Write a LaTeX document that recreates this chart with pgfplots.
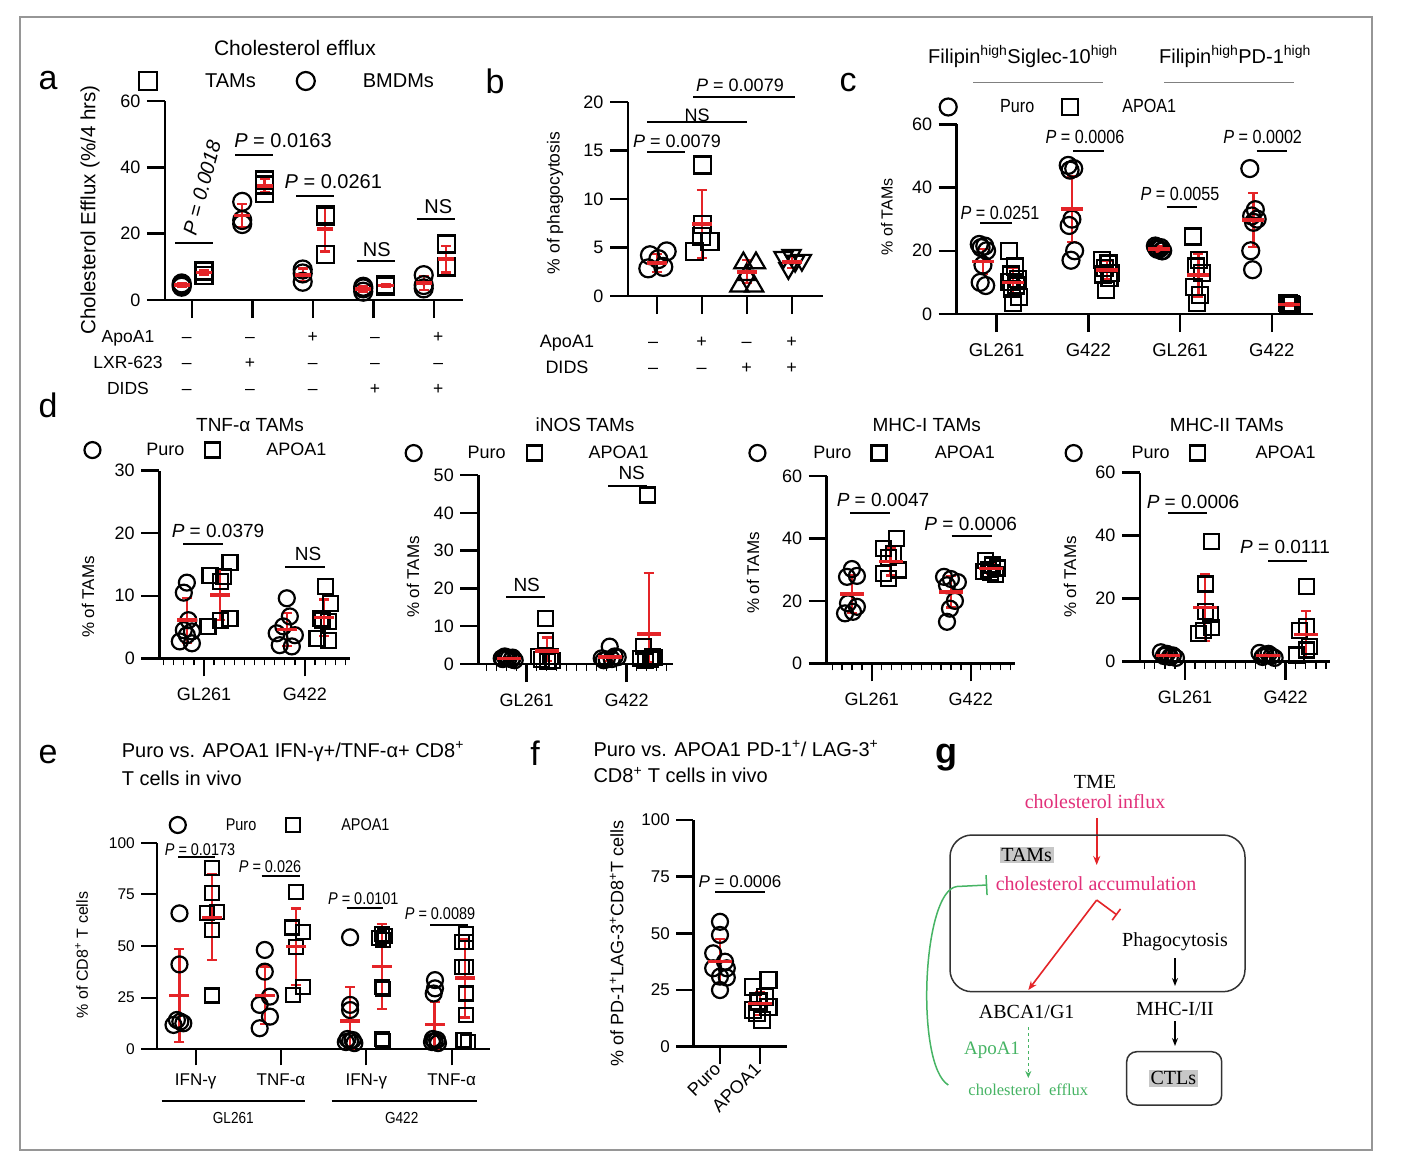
\documentclass[border=0pt]{standalone}
\usepackage{fontspec}
\setmainfont{Liberation Sans}
\newfontfamily\serifg{Liberation Serif}
\newfontfamily\cnd[FakeStretch=0.85]{Liberation Sans}
\usepackage{pgfplots}
\pgfplotsset{compat=1.18}
\usetikzlibrary{arrows.meta}
\newcommand\fs[1]{\fontsize{#1}{#1}\selectfont}
\definecolor{cred}{RGB}{228,36,40}
\definecolor{cpink}{RGB}{226,48,122}
\definecolor{cgreen}{RGB}{70,180,100}
\definecolor{cframe}{RGB}{150,150,150}
\tikzset{sig/.style={line width=2pt}}

\pgfplotsset{
  gp/.style={scale only axis, axis lines=left, axis line style={-, line width=2.5pt, black},
    tick style={line width=2.5pt, black}, tick align=outside, major tick length=18pt,
    clip=false, /pgf/number format/assume math mode=true, tick label style={font=\fs{18}},
    yticklabel style={xshift=-3pt},
    legend style={draw=none, fill=none, inner sep=0pt, nodes={inner sep=0pt}, legend columns=2, anchor=west},
    legend cell align=left},
  lg/.style 2 args={legend image code/.code={\draw[##1] plot coordinates {(0pt,0pt)}; \path[draw=none, fill=none] (-10pt,0pt) -- (#1,0pt);},
    legend style={/tikz/every even column/.append style={column sep=#2}}},
  ci/.style={only marks, mark=o, black, line width=2.2pt, mark size=#1},
  sq/.style={only marks, mark=square, black, line width=2.2pt, mark size=#1},
  mn/.style 2 args={only marks, mark=-, cred, line width=3.5pt, mark size=#1,
    error bars/y dir=both, error bars/y explicit,
    error bars/error bar style={cred, line width=2.2pt},
    error bars/error mark options={rotate=90, cred, line width=2.2pt, mark size=#2}},
}

\begin{document}
\begin{tikzpicture}
\path[fill=white, use as bounding box] (0pt,0pt) rectangle (1406pt,-1172pt);

% ---------- a ----------
\begin{axis}[gp, at={(165pt,-300pt)}, anchor=south west, width=298pt, height=199pt,
  xmin=0.554, xmax=5.479, ymin=0, ymax=60, ytick={0,20,40,60}, xtick={1,2,3,4,5}, xticklabels={,,,,},
  lg={57pt}{40pt}, legend style={at={(-0.091,1.1005)}, font=\fs{20}}]
\addlegendimage{sq=9pt}\addlegendentry{TAMs}
\addlegendimage{ci=9pt}\addlegendentry{BMDMs}
\addplot[forget plot, ci=9pt] coordinates {(0.83,4) (0.83,4.5) (0.83,5) (1.83,29.6) (1.83,24.1) (1.83,22.9)
  (2.83,9.2) (2.83,8.0) (2.83,5.5) (3.83,4) (3.83,3.5) (3.83,2.5) (4.83,7.5) (4.83,4.5) (4.83,3.5)};
\addplot[forget plot, sq=8.5pt] coordinates {(1.2,7.5) (1.2,8.5) (1.2,9) (2.2,36.2) (2.2,34.7) (2.2,32.2)
  (3.2,25.6) (3.2,25.1) (3.2,13.6) (4.2,4.5) (4.2,4.0) (4.2,4.6) (5.2,16.9) (5.2,10.1) (5.2,9.8)};
\addplot[forget plot, mn={8pt}{5pt}] coordinates {(0.83,4.5) +- (0,0.5) (1.83,25.5) +- (0,3.5)
  (2.83,7.6) +- (0,1.9) (3.83,3.3) +- (0,0.8) (4.83,5.2) +- (0,2.1)};
\addplot[forget plot, mn={8pt}{5pt}] coordinates {(1.2,8.3) +- (0,0.8) (2.2,34.4) +- (0,2.0)
  (3.2,21.4) +- (0,6.8) (4.2,4.4) +- (0,0.3) (5.2,12.3) +- (0,4.0)};
\end{axis}

% ---------- b ----------
\begin{axis}[gp, at={(628pt,-296pt)}, anchor=south west, width=195pt, height=194pt,
  xmin=0.356, xmax=4.689, ymin=0, ymax=20, ytick={0,5,10,15,20}, xtick={1,2,3,4}, xticklabels={,,,}]
\addplot[forget plot, ci=9pt] coordinates {(0.844,4.2) (1.215,4.6) (0.807,2.85) (1.14,3.0) (1.03,3.8)};
\addplot[forget plot, sq=8.5pt] coordinates {(2.015,13.5) (2.015,7.4) (2.18,5.6) (1.84,4.6) (1.99,6.1)};
\addplot[forget plot, only marks, mark=triangle, black, line width=2.2pt, mark size=10.5pt]
  coordinates {(2.92,3.4) (3.2,3.4) (2.83,1.0) (3.16,1.0) (2.99,2.2)};
\addplot[forget plot, only marks, mark=triangle, black, line width=2.2pt, mark size=10.5pt, mark options={rotate=180}]
  coordinates {(3.81,4.0) (4.07,3.6) (3.92,2.85) (4.22,3.7) (3.99,4.2)};
\addplot[forget plot, mn={10pt}{5pt}] coordinates {(1,3.4) +- (0,0.9) (2,7.4) +- (0,3.5)
  (3,2.5) +- (0,1.2) (4,3.5) +- (0,0.6)};
\end{axis}

% ---------- c ----------
\begin{axis}[gp, at={(956.7pt,-314pt)}, anchor=south west, width=356.3pt, height=189.7pt,
  xmin=0.564, xmax=4.449, ymin=0, ymax=60, ytick={0,20,40,60}, xtick={1,2,3,4},
  xticklabels={GL261,G422,GL261,G422}, xticklabel style={font=\fs{18.5}, yshift=-8pt},
  lg={52pt}{26pt}, legend style={at={(-0.0525,1.0912)}, font=\cnd\fs{19}}]
\addlegendimage{ci=8.5pt}\addlegendentry{Puro}
\addlegendimage{sq=8pt}\addlegendentry{APOA1}
\addplot[forget plot, ci=8.5pt] coordinates {
  (0.81,22) (0.87,21.5) (0.83,21) (0.89,20) (0.85,15.5) (0.82,10) (0.88,9)
  (1.78,47) (1.84,46) (1.80,45.5) (1.82,30) (1.79,28) (1.85,20) (1.81,17)
  (2.73,21.5) (2.79,21) (2.75,20.5) (2.81,20) (2.77,20.5) (2.74,21) (2.80,20)
  (3.76,46) (3.82,33) (3.78,31) (3.84,30) (3.80,29) (3.77,20) (3.79,14)};
\addplot[forget plot, sq=8pt] coordinates {
  (1.13,20) (1.20,15) (1.16,12.5) (1.23,11) (1.14,10) (1.21,9) (1.17,8) (1.24,5.5) (1.18,3.5)
  (2.15,17) (2.22,16) (2.18,14.5) (2.25,13) (2.16,12.5) (2.23,11.5) (2.19,7.5)
  (3.14,24.5) (3.21,17) (3.17,15) (3.24,13) (3.15,8.5) (3.22,6) (3.18,3.5)
  (4.17,3.5) (4.21,3) (4.19,3.2) (4.22,2.8) (4.19,3.4) (4.20,3.1) (4.18,2.9)};
\addplot[forget plot, mn={11pt}{5pt}] coordinates {(0.85,16.6) +- (0,4) (1.82,33.2) +- (0,10.3)
  (2.77,20.6) +- (0,0.8) (3.8,29.7) +- (0,8.5)};
\addplot[forget plot, mn={11pt}{5pt}] coordinates {(1.18,10) +- (0,4.5) (2.2,13.9) +- (0,3)
  (3.2,12.3) +- (0,6.8) (4.19,3) +- (0,0.3)};
\end{axis}

% ---------- d1 TNF ----------
\begin{axis}[gp, at={(159.3pt,-658.3pt)}, anchor=south west, width=190.7pt, height=187.6pt,
  xmin=0.557, xmax=2.446, ymin=0, ymax=30, ytick={0,10,20,30}, xtick={1,2}, xticklabels={GL261,G422},
  minor xtick={0.6,0.7,...,2.4}, minor tick length=7pt, minor tick style={line width=1.3pt},
  xticklabel style={yshift=-8pt},
  lg={54pt}{18pt}, legend style={at={(-0.404,1.110)}, font=\fs{18}}]
\addlegendimage{ci=8pt}\addlegendentry{Puro}
\addlegendimage{sq=7.5pt}\addlegendentry{APOA1}
\addplot[forget plot, ci=8pt] coordinates {(0.83,12.1) (0.80,10.5) (0.845,6.1) (0.80,4.5) (0.88,4.3) (0.76,2.7) (0.88,2.4) (0.83,3.7)
  (1.82,9.6) (1.85,6.7) (1.785,5.1) (1.72,4.0) (1.90,3.7) (1.75,2.1) (1.87,1.9)};
\addplot[forget plot, sq=7.5pt] coordinates {(1.257,15.3) (1.06,13.2) (1.19,13.1) (1.16,12.3) (1.257,6.4) (1.04,5.1) (1.16,6.1)
  (2.20,11.5) (2.25,8.8) (2.15,6.4) (2.23,5.9) (2.12,3.2) (2.23,2.9) (2.17,6.1)};
\addplot[forget plot, mn={10pt}{5pt}] coordinates {(0.83,6.1) +- (0,3.6) (1.16,10.1) +- (0,4)
  (1.82,4.6) +- (0,2.6) (2.19,6.5) +- (0,2.9)};
\end{axis}

% ---------- d2 iNOS ----------
\begin{axis}[gp, at={(478.3pt,-664pt)}, anchor=south west, width=194.4pt, height=189pt,
  xmin=0.516, xmax=2.46, ymin=0, ymax=50, ytick={0,10,...,50}, xtick={1,2}, xticklabels={GL261,G422},
  minor xtick={0.6,0.7,...,2.4}, minor tick length=7pt, minor tick style={line width=1.3pt},
  xticklabel style={yshift=-8pt},
  lg={54pt}{19pt}, legend style={at={(-0.385,1.116)}, font=\fs{18}}]
\addlegendimage{ci=8pt}\addlegendentry{Puro}
\addlegendimage{sq=7.5pt}\addlegendentry{APOA1}
\addplot[forget plot, ci=8pt] coordinates {(0.75,1.5) (0.80,1.8) (0.85,1.2) (0.78,2.0) (0.88,1.0) (0.82,1.6) (0.76,1.3) (0.86,1.7)
  (1.83,4.6) (1.75,1.5) (1.80,1.2) (1.88,2.0) (1.77,1.0) (1.91,1.8) (1.85,1.3)};
\addplot[forget plot, sq=7.5pt] coordinates {(1.19,12.1) (1.19,6.3) (1.12,1.9) (1.24,2.0) (1.26,1.0) (1.15,1.2) (1.21,0.8)
  (2.21,44.7) (2.17,4.6) (2.14,1.5) (2.24,1.2) (2.28,1.8) (2.19,1.0) (2.26,2.0)};
\addplot[forget plot, mn={12pt}{5pt}] coordinates {(0.82,1.5) +- (0,0.4) (1.2,3.4) += (0,3.6) -= (0,2.6)
  (1.83,1.9) +- (0,1.2) (2.22,8) += (0,16) -= (0,7.5)};
\end{axis}

% ---------- d3 MHC-I ----------
\begin{axis}[gp, at={(826.7pt,-663.3pt)}, anchor=south west, width=188.3pt, height=187.3pt,
  xmin=0.545, xmax=2.447, ymin=0, ymax=60, ytick={0,20,40,60}, xtick={1,2}, xticklabels={GL261,G422},
  minor xtick={0.6,0.7,...,2.4}, minor tick length=7pt, minor tick style={line width=1.3pt},
  xticklabel style={yshift=-8pt},
  lg={56pt}{17.5pt}, legend style={at={(-0.422,1.123)}, font=\fs{18}}]
\addlegendimage{ci=8pt}\addlegendentry{Puro}
\addlegendimage{sq=7.5pt}\addlegendentry{APOA1}
\addplot[forget plot, ci=8pt] coordinates {(0.80,30.2) (0.75,27.7) (0.85,28.0) (0.76,19.2) (0.85,18.1) (0.73,16.0) (0.81,16.5)
  (1.73,27.7) (1.80,27.0) (1.87,26.0) (1.76,25.0) (1.84,20.0) (1.79,17.5) (1.76,13.3)};
\addplot[forget plot, sq=7.5pt] coordinates {(1.25,40.0) (1.12,36.8) (1.22,35.2) (1.17,33.9) (1.27,29.9) (1.12,28.8) (1.17,27.2)
  (2.15,33) (2.22,31.5) (2.27,30.5) (2.13,29.5) (2.20,29) (2.25,28.5) (2.18,30)};
\addplot[forget plot, mn={12pt}{5pt}] coordinates {(0.8,22.2) +- (0,6) (1.19,32.6) +- (0,4.5)
  (1.8,22.9) +- (0,5) (2.2,30.3) +- (0,1.8)};
\end{axis}

% ---------- d4 MHC-II ----------
\begin{axis}[gp, at={(1140pt,-661.7pt)}, anchor=south west, width=190pt, height=189pt,
  xmin=0.553, xmax=2.44, ymin=0, ymax=60, ytick={0,20,40,60}, xtick={1,2}, xticklabels={GL261,G422},
  minor xtick={0.6,0.7,...,2.4}, minor tick length=7pt, minor tick style={line width=1.3pt},
  xticklabel style={yshift=-8pt},
  lg={58pt}{18pt}, legend style={at={(-0.403,1.104)}, font=\fs{18}}]
\addlegendimage{ci=8pt}\addlegendentry{Puro}
\addlegendimage{sq=7.5pt}\addlegendentry{APOA1}
\addplot[forget plot, ci=8pt] coordinates {(0.76,3.0) (0.82,2.5) (0.88,2.0) (0.79,1.8) (0.85,1.5) (0.91,1.2) (0.80,2.2)
  (1.74,2.8) (1.80,2.2) (1.86,1.8) (1.77,1.5) (1.83,2.5) (1.89,1.2) (1.79,2.0)};
\addplot[forget plot, sq=7.5pt] coordinates {(1.265,38.1) (1.2,24.7) (1.2,15.9) (1.25,15) (1.265,10.8) (1.13,9.0) (1.18,10.0)
  (2.21,23.8) (2.21,11.1) (2.14,10.0) (2.24,4.8) (2.11,2.1) (2.21,3.7)};
\addplot[forget plot, mn={12pt}{5pt}] coordinates {(0.83,2) +- (0,0.6) (1.2,17.2) +- (0,10.5)
  (1.82,2) +- (0,0.5) (2.2,8.7) +- (0,7.5)};
\end{axis}

% ---------- e ----------
\begin{axis}[gp, at={(157.3pt,-1049.3pt)}, anchor=south west, width=332.7pt, height=206.6pt,
  axis line style={line width=2.2pt}, tick style={line width=2.2pt}, major tick length=16pt,
  xmin=0.55, xmax=4.45, ymin=0, ymax=100, ytick={0,25,50,75,100}, xtick={1,2,3,4},
  xticklabels={IFN-γ,TNF-α,IFN-γ,TNF-α}, yticklabel style={font=\fs{15.5}}, xticklabel style={font=\fs{17}, yshift=-5pt},
  lg={48pt}{27pt}, legend style={at={(0.031,1.0857)}, font=\cnd\fs{17}}]
\addlegendimage{ci=8pt}\addlegendentry{Puro}
\addlegendimage{sq=7pt}\addlegendentry{APOA1}
\addplot[forget plot, ci=8pt] coordinates {(0.81,65.8) (0.81,41.1) (0.78,14.2) (0.855,12.6) (0.74,11.8) (0.82,13.4)
  (1.81,48.1) (1.81,37.6) (1.75,21.5) (1.87,25.5) (1.87,15.8) (1.75,10.2)
  (2.81,54.2) (2.81,21.5) (2.81,19.0) (2.78,5) (2.84,4.5) (2.81,4) (2.76,3.5) (2.86,3)
  (3.805,33.5) (3.805,29.5) (3.79,27) (3.78,5) (3.83,4.5) (3.80,4) (3.77,3.5) (3.84,3)};
\addplot[forget plot, sq=7pt] coordinates {(1.19,87.6) (1.19,75.5) (1.13,65.8) (1.25,66.6) (1.19,57.7) (1.19,26.0)
  (2.18,76.0) (2.125,59.0) (2.26,56.9) (2.18,49.7) (2.26,30.3) (2.14,26.3)
  (3.18,56) (3.22,55) (3.15,54) (3.2,53) (3.18,30) (3.2,29) (3.18,5) (3.2,4)
  (4.17,56) (4.17,52) (4.12,52) (4.17,40) (4.12,40) (4.17,27) (4.17,16.6) (4.14,4.5) (4.19,3.7)};
\addplot[forget plot, mn={10pt}{5pt}] coordinates {(0.81,26.1) +- (0,22.6) (1.19,63.9) +- (0,20.8)
  (1.81,26.1) +- (0,14) (2.18,49.7) +- (0,18.5) (2.81,13.7) += (0,16.6) -= (0,13.7) (3.18,40) +- (0,20.5)
  (3.8,12) += (0,11) -= (0,12) (4.16,34.4) +- (0,19)};
\end{axis}

% ---------- f ----------
\begin{axis}[gp, at={(693.3pt,-1046.7pt)}, anchor=south west, width=93.4pt, height=226.7pt,
  major tick length=17pt, xmin=0.333, xmax=2.667, ymin=0, ymax=100, ytick={0,25,50,75,100},
  xtick={1,2}, xticklabels={Puro,APOA1}, tick label style={font=\fs{17}},
  xticklabel style={rotate=45, anchor=east, font=\fs{18}}]
\addplot[forget plot, ci=8pt] coordinates {(1.0,55.1) (1.0,49.3) (0.83,41.2) (1.125,37.5) (0.83,34.6) (1.17,34.6) (1.0,30.9) (1.17,30.5) (1.0,25.0)};
\addplot[forget plot, sq=8pt] coordinates {(2.21,29.4) (1.83,26.5) (2.125,22.1) (1.96,19.9) (2.21,17.6) (1.83,16.2) (2.04,11.8) (1.92,14.7)};
\addplot[forget plot, mn={12pt}{5pt}] coordinates {(1,37.5) +- (0,10) (2,19.1) +- (0,5)};
\end{axis}

% ---------- annotations (pixel coordinates) ----------
\begin{scope}[x=1pt, y=-1pt]
\draw[cframe, line width=2pt] (20,17) rectangle (1372,1150);
% a
\node[font=\fs{34}] at (48,81) {a};
\node[font=\fs{21}] at (295,48) {Cholesterol efflux};
\node[font=\fs{20.5}, rotate=90] at (90,210) {Cholesterol Efflux (\%/4 hrs)};
\draw[sig] (175,243) -- (213,243);
\node[font=\fs{20}\itshape, rotate=75] at (202,188) {P = 0.0018};
\draw[sig] (235,155) -- (273.3,155);
\node[font=\fs{20}] at (283,140.7) {\textit{P} = 0.0163};
\draw[sig] (296,195.7) -- (334.3,195.7);
\node[font=\fs{20}] at (333.3,181.7) {\textit{P} = 0.0261};
\draw[sig] (356.7,260.7) -- (395,260.7);
\node[font=\fs{20}] at (376.7,250) {NS};
\draw[sig] (416.7,219.3) -- (455,219.3);
\node[font=\fs{20}] at (438.3,206.7) {NS};
\begin{scope}[every node/.style={font=\fs{17.5}, anchor=base}]
\node at (128,342) {ApoA1}; \node at (128,368) {LXR-623}; \node at (128,394) {DIDS};
\node at (186.7,342) {–}; \node at (250,342) {–}; \node at (312.7,342) {+}; \node at (375,342) {–}; \node at (438.3,342) {+};
\node at (186.7,368) {–}; \node at (250,368) {+}; \node at (312.7,368) {–}; \node at (375,368) {–}; \node at (438.3,368) {–};
\node at (186.7,394) {–}; \node at (250,394) {–}; \node at (312.7,394) {–}; \node at (375,394) {+}; \node at (438.3,394) {+};
\end{scope}
% b
\node[font=\fs{34}] at (495,81) {b};
\node[font=\fs{17.5}, rotate=90] at (555,203) {\% of phagocytosis};
\draw[sig] (647,151.7) -- (685,151.7);
\node[font=\fs{18}] at (677,141.7) {\textit{P} = 0.0079};
\draw[sig] (647,121.7) -- (747,121.7);
\node[font=\fs{18}] at (697,115) {NS};
\draw[sig] (693,97) -- (795,97);
\node[font=\fs{18}] at (740,85.7) {\textit{P} = 0.0079};
\begin{scope}[every node/.style={font=\fs{18}, anchor=base}]
\node at (567,347) {ApoA1}; \node at (567,373) {DIDS};
\node at (653,347) {–}; \node at (701.7,347) {+}; \node at (746.7,347) {–}; \node at (791.7,347) {+};
\node at (653,373) {–}; \node at (701.7,373) {–}; \node at (746.7,373) {+}; \node at (791.7,373) {+};
\end{scope}
% c
\node[font=\fs{34}] at (848,83) {c};
\node[font=\fs{20}] at (1023,56.7) {Filipin\textsuperscript{high}Siglec-10\textsuperscript{high}};
\node[font=\fs{20}] at (1235,56.7) {Filipin\textsuperscript{high}PD-1\textsuperscript{high}};
\draw[gray, line width=1.2pt] (973,82.3) -- (1103,82.3);
\draw[gray, line width=1.2pt] (1164,82.3) -- (1294,82.3);
\node[font=\fs{16}, rotate=90] at (887,217) {\% of TAMs};
\begin{scope}[every node/.style={font=\cnd\fs{19}}]
\draw[sig] (980,223.3) -- (1011.7,223.3); \node at (1000,212.7) {\textit{P} = 0.0251};
\draw[sig] (1073,151) -- (1104,151); \node at (1085,137.3) {\textit{P} = 0.0006};
\draw[sig] (1166.7,206.7) -- (1196.7,206.7); \node at (1180,194) {\textit{P} = 0.0055};
\draw[sig] (1256.7,151) -- (1286.7,151); \node at (1262.7,136.7) {\textit{P} = 0.0002};
\end{scope}
% d
\node[font=\fs{34}] at (48,405) {d};
\begin{scope}[every node/.style={font=\fs{19}}]
\node at (250,425) {TNF-α TAMs}; \node at (585,425) {iNOS TAMs};
\node at (926.7,425) {MHC-I TAMs}; \node at (1226.7,425) {MHC-II TAMs};
\draw[sig] (183,544.3) -- (223,544.3); \node at (218,531) {\textit{P} = 0.0379};
\draw[sig] (285,566.7) -- (325,566.7); \node at (308,554) {NS};
\draw[sig] (506,596.7) -- (545,596.7); \node at (526.7,585) {NS};
\draw[sig] (608,485.7) -- (646.7,485.7); \node at (631.7,473.3) {NS};
\draw[sig] (850,512.7) -- (890,512.7); \node at (883,500) {\textit{P} = 0.0047};
\draw[sig] (951.7,536) -- (991.7,536); \node at (970.7,524) {\textit{P} = 0.0006};
\draw[sig] (1168,513.3) -- (1206.7,513.3); \node at (1193,501.7) {\textit{P} = 0.0006};
\draw[sig] (1268,561) -- (1306.7,561); \node at (1285,546.7) {\textit{P} = 0.0111};
\end{scope}
\begin{scope}[every node/.style={font=\fs{17}, rotate=90}]
\node at (88,597) {\% of TAMs}; \node at (413,577) {\% of TAMs};
\node at (753,573) {\% of TAMs}; \node at (1070,577) {\% of TAMs};
\end{scope}
% e
\node[font=\fs{34}] at (48,755) {e};
\node[font=\fs{20}, anchor=west] at (118.3,751.7) {Puro vs. APOA1 IFN-γ+/TNF-α+ CD8\textsuperscript{+}};
\node[font=\fs{20}, anchor=west] at (118.3,778.3) {T cells in vivo};
\node[font=\fs{16}, rotate=90] at (81.7,955) {\% of CD8\textsuperscript{+} T cells};
\draw[sig] (161.7,1100.7) -- (305,1100.7);
\draw[sig] (331.7,1100.7) -- (476.7,1100.7);
\node[font=\cnd\fs{16}] at (233.3,1118.3) {GL261};
\node[font=\cnd\fs{16}] at (401.7,1118.3) {G422};
\begin{scope}[every node/.style={font=\cnd\fs{17}}]
\draw[sig] (178.3,856.7) -- (215,856.7); \node at (200,849.3) {\textit{P} = 0.0173};
\draw[sig] (261.7,876) -- (300,876); \node at (270,866.7) {\textit{P} = 0.026};
\draw[sig] (346.7,908.3) -- (383.3,908.3); \node at (363.3,898.3) {\textit{P} = 0.0101};
\draw[sig] (430,925) -- (468.3,925); \node at (440,914) {\textit{P} = 0.0089};
\end{scope}
% f
\node[font=\fs{34}] at (535,753) {f};
\node[font=\fs{20}, anchor=west] at (590,748.3) {Puro vs. APOA1 PD-1\textsuperscript{+}/ LAG-3\textsuperscript{+}};
\node[font=\fs{20}, anchor=west] at (590,775) {CD8\textsuperscript{+} T cells in vivo};
\node[font=\fs{18}, rotate=90] at (616.7,943.3) {\% of PD-1\textsuperscript{+}LAG-3\textsuperscript{+}CD8\textsuperscript{+}T cells};
\draw[sig] (715,891.7) -- (765,891.7);
\node[font=\fs{17}] at (740,881.7) {\textit{P} = 0.0006};
% g
\node[font=\bfseries\fs{36}] at (946.7,758) {g};
\begin{scope}[every node/.style={font=\serifg\fs{20}}]
\node at (1095,781.7) {TME};
\node[text=cpink] at (1095,801.7) {cholesterol influx};
\draw[cred, line width=1.6pt, -{Stealth[length=9pt,width=7pt]}] (1096.7,818) -- (1096.7,865);
\draw[line width=1.5pt, black!80, rounded corners=22pt] (950,835) rectangle (1245,991.7);
\node[fill=black!22, inner sep=1.5pt] at (1026.7,855) {TAMs};
\node[text=cpink] at (1096,883.3) {cholesterol accumulation};
\draw[cred, line width=1.6pt, -{Stealth[length=9pt,width=7pt]}] (1096.7,900) -- (1028.3,990);
\draw[cred, line width=1.6pt, -{Bar[width=14pt]}] (1096.7,900) -- (1117,915);
\node at (1175,941.7) {Phagocytosis};
\draw[line width=1.4pt, -{Stealth[length=8pt,width=6pt]}] (1175,958) -- (1175,986);
\node at (1026.7,1011.7) {ABCA1/G1};
\node at (1175,1009.3) {MHC-I/II};
\draw[line width=1.4pt, -{Stealth[length=8pt,width=6pt]}] (1175,1021) -- (1175,1046);
\draw[cgreen, line width=1.4pt, dashed, -{Stealth[length=7pt,width=6pt]}] (1028.3,1027) -- (1028.3,1078);
\node[text=cgreen, font=\serifg\fs{19}] at (992,1050) {ApoA1};
\node[text=cgreen, font=\serifg\fs{16.5}] at (1028.3,1090) {cholesterol\ \ efflux};
\draw[line width=1.5pt, black!80, rounded corners=10pt] (1126.7,1051.7) rectangle (1221.7,1105);
\node[fill=black!22, inner sep=1.5pt] at (1173.3,1078.3) {CTLs};
\draw[cgreen, line width=1.5pt, {Bar[width=20pt]}-] (987.3,885) -- (957,886.5) .. controls (922,890) and (915,1065) .. (948.3,1085);
\end{scope}
\end{scope}
\end{tikzpicture}
\end{document}
